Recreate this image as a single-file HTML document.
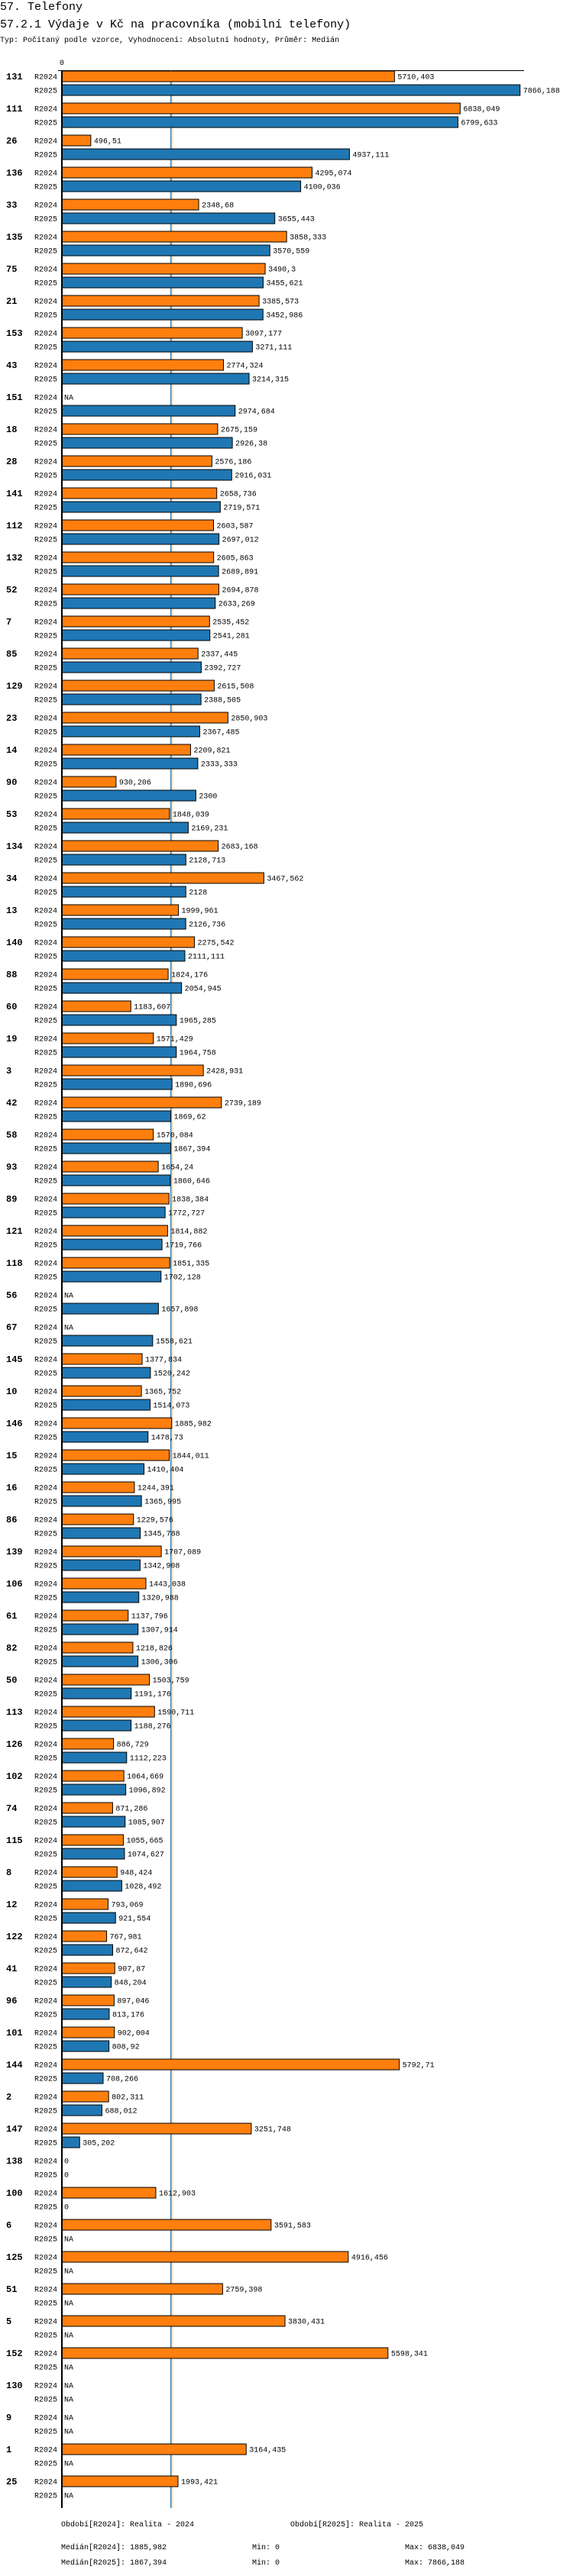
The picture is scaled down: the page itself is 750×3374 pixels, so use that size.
<!DOCTYPE html>
<html><head><meta charset="utf-8"><style>
html,body{margin:0;padding:0;background:#fff;}
svg{display:block;font-family:"Liberation Mono","DejaVu Sans Mono",monospace;}
</style></head><body>
<svg id="chart" width="750" height="3374" viewBox="0 0 750 3374" xmlns="http://www.w3.org/2000/svg">
<text x="0" y="13" font-size="15">57. Telefony</text>
<text x="0" y="36" font-size="15">57.2.1 Výdaje v Kč na pracovníka (mobilní telefony)</text>
<text x="0" y="55" font-size="10">Typ: Počítaný podle vzorce, Vyhodnocení: Absolutní hodnoty, Průměr: Medián</text>
<text x="81" y="85" font-size="10" text-anchor="middle">0</text>
<line x1="76" y1="92.5" x2="686" y2="92.5" stroke="#000" stroke-width="1"/>
<g id="medians"></g>
<g id="bars"></g>
<line x1="81" y1="92" x2="81" y2="3285" stroke="#000" stroke-width="2"/>
<g font-size="10">
<text x="80" y="3309">Období[R2024]: Realita - 2024</text>
<text x="380" y="3309">Období[R2025]: Realita - 2025</text>
<text x="80" y="3339">Medián[R2024]: 1885,982</text>
<text x="330" y="3339">Min: 0</text>
<text x="530" y="3339">Max: 6838,049</text>
<text x="80" y="3359">Medián[R2025]: 1867,394</text>
<text x="330" y="3359">Min: 0</text>
<text x="530" y="3359">Max: 7866,188</text>
</g>
</svg>
<script>
const groups = ["131","111","26","136","33","135","75","21","153","43","151","18","28","141","112","132","52","7","85","129","23","14","90","53","134","34","13","140","88","60","19","3","42","58","93","89","121","118","56","67","145","10","146","15","16","86","139","106","61","82","50","113","126","102","74","115","8","12","122","41","96","101","144","2","147","138","100","6","125","51","5","152","130","9","1","25"];
const seriesNames = ["R2024","R2025"];
const v2024 = [5710.403,6838.049,496.51,4295.074,2348.68,3858.333,3490.3,3385.573,3097.177,2774.324,null,2675.159,2576.186,2658.736,2603.587,2605.863,2694.878,2535.452,2337.445,2615.508,2850.903,2209.821,930.206,1848.039,2683.168,3467.562,1999.961,2275.542,1824.176,1183.607,1571.429,2428.931,2739.189,1570.084,1654.24,1838.384,1814.882,1851.335,null,null,1377.834,1365.752,1885.982,1844.011,1244.391,1229.576,1707.089,1443.038,1137.796,1218.826,1503.759,1590.711,886.729,1064.669,871.286,1055.665,948.424,793.069,767.981,907.87,897.046,902.004,5792.71,802.311,3251.748,0,1612.903,3591.583,4916.456,2759.398,3830.431,5598.341,null,null,3164.435,1993.421];
const v2025 = [7866.188,6799.633,4937.111,4100.036,3655.443,3570.559,3455.621,3452.986,3271.111,3214.315,2974.684,2926.38,2916.031,2719.571,2697.012,2689.891,2633.269,2541.281,2392.727,2388.505,2367.485,2333.333,2300,2169.231,2128.713,2128,2126.736,2111.111,2054.945,1965.285,1964.758,1890.696,1869.62,1867.394,1860.646,1772.727,1719.766,1702.128,1657.898,1558.621,1520.242,1514.073,1478.73,1410.404,1365.995,1345.788,1342.908,1320.988,1307.914,1306.306,1191.176,1188.276,1112.223,1096.892,1085.907,1074.627,1028.492,921.554,872.642,848.204,813.176,808.92,708.266,688.012,305.202,0,0,null,null,null,null,null,null,null,null,null];
const medians = [1885.982, 1867.394];

const NS = "http://www.w3.org/2000/svg";
const colors = ["#ff7f0e", "#1f77b4"];
const X0 = 81, SLOPE = 0.07624;
function xScale(v){ return X0 + v * SLOPE; }
const TOP = 92.5, GROUP_PITCH = 42, ROW_PITCH = 18, BAR_H = 15;
function yGroup(i){ return TOP + i * GROUP_PITCH; }
function fmt(v){ return String(v).replace('.', ','); }
function mk(tag, attrs){ const e = document.createElementNS(NS, tag); for (const k in attrs) e.setAttribute(k, attrs[k]); return e; }

const medG = document.getElementById('medians');
medians.forEach((m, s) => {
  const l = mk('line', {x1: xScale(m), x2: xScale(m), y1: 92, y2: 3285, stroke: colors[s], 'stroke-width': 1});
  
  
  medG.appendChild(l);
});

const g = document.getElementById('bars');
const series = [v2024, v2025];
groups.forEach((name, i) => {
  const gy = yGroup(i);
  const lbl = mk('text', {x: 8, y: gy + 11.5, 'font-size': 12, 'font-weight': 'bold'});
  lbl.textContent = name;
  
  
  g.appendChild(lbl);
  series.forEach((arr, s) => {
    const y = gy + s * ROW_PITCH;
    const rl = mk('text', {x: 75, y: y + 11, 'font-size': 10, 'text-anchor': 'end'});
    rl.textContent = seriesNames[s];
    
    
    g.appendChild(rl);
    const v = arr[i];
    let tx = X0 + 3;
    if (v !== null && v > 0) {
      const w = xScale(v) - X0;
      const r = mk('rect', {x: X0 + 0.5, y: y + 0.5, width: w - 0.5, height: BAR_H - 1, fill: colors[s], stroke: '#000', 'stroke-width': 1});
      
      
      g.appendChild(r);
      tx = xScale(v) + 4;
    }
    const vt = mk('text', {x: tx, y: y + 11, 'font-size': 10});
    vt.textContent = v === null ? 'NA' : fmt(v);
    
    
    g.appendChild(vt);
  });
});
</script>
</body></html>
